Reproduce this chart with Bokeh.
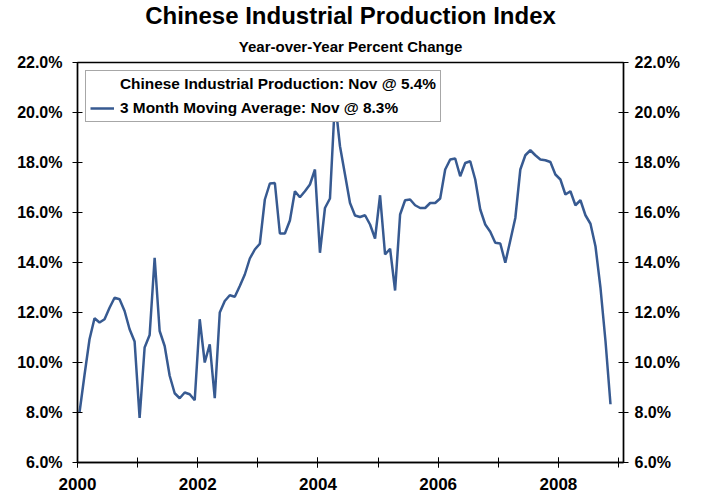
from bokeh.plotting import figure
from bokeh.models import (LinearAxis, FixedTicker, PrintfTickFormatter, Legend,
                          LegendItem, Range1d, Title, ColumnDataSource)
from bokeh.embed import file_html
from bokeh.resources import INLINE

# ---- data ----
start_year = 2000
ma3 = [
    # 2000
    8.0, 9.5, 10.93, 11.77, 11.6, 11.73, 12.19, 12.59, 12.53, 12.06, 11.33, 10.84,
    # 2001
    7.78, 10.6, 11.1, 14.19, 11.26, 10.66, 9.47, 8.77, 8.57, 8.80, 8.73, 8.49,
    # 2002
    11.73, 10.0, 10.73, 8.57, 12.0, 12.46, 12.69, 12.63, 13.06, 13.52, 14.16, 14.52,
    # 2003
    14.75, 16.52, 17.16, 17.18, 15.16, 15.16, 15.68, 16.85, 16.61, 16.85, 17.12, 17.72,
    # 2004
    14.39, 16.18, 16.56, 20.5, 18.65, 17.52, 16.38, 15.88, 15.82, 15.89, 15.52, 14.96,
    # 2005
    16.69, 14.32, 14.55, 12.88, 15.92, 16.49, 16.52, 16.29, 16.18, 16.18, 16.38, 16.38,
    # 2006
    16.56, 17.72, 18.12, 18.16, 17.45, 17.98, 18.05, 17.32, 16.12, 15.52, 15.23, 14.79,
    # 2007
    14.76, 13.99, 14.88, 15.78, 17.72, 18.29, 18.49, 18.29, 18.12, 18.09, 18.02, 17.52,
    # 2008
    17.32, 16.72, 16.85, 16.29, 16.49, 15.89, 15.55, 14.65, 12.99, 10.86, 8.33,
]
dates = [start_year + (i + 0.4) / 12.0 for i in range(len(ma3))]

y_ticks = [6, 8, 10, 12, 14, 16, 18, 20, 22]
x_label_years = [2000, 2002, 2004, 2006, 2008]
x_tick_years = [2000, 2001, 2002, 2003, 2004, 2005, 2006, 2007, 2008, 2009]

title_text = "Chinese Industrial Production Index"
subtitle_text = "Year-over-Year Percent Change"
legend_ip = "Chinese Industrial Production: Nov @ 5.4%"
legend_ma = "3 Month Moving Average: Nov @ 8.3%"

FONT = "Liberation Sans"
LINE_COLOR = "#375A91"

p = figure(width=700, height=495, output_backend="svg", toolbar_location=None,
           x_range=Range1d(2000, 2009.083), y_range=Range1d(6, 22),
           min_border_left=77, min_border_right=77, min_border_top=62,
           min_border_bottom=33, background_fill_color="white",
           border_fill_color="white")
p.grid.visible = False
p.outline_line_color = "black"
p.outline_line_width = 1.3

# Series
ip_src = ColumnDataSource(dict(x=[], y=[]))
r_ip = p.line("x", "y", source=ip_src, line_alpha=0)
src = ColumnDataSource(dict(x=dates, y=ma3))
r_ma = p.line("x", "y", source=src, line_color=LINE_COLOR, line_width=2.5)

# Axes styling
def style_y(ax, standoff):
    ax.ticker = FixedTicker(ticks=y_ticks, minor_ticks=[])
    ax.formatter = PrintfTickFormatter(format="%.1f%%")
    ax.major_tick_in = 5
    ax.major_tick_out = 5
    ax.major_tick_line_color = "black"
    ax.axis_line_color = "black"
    ax.axis_line_width = 1.5
    ax.major_label_text_font = FONT
    ax.major_label_text_font_style = "bold"
    ax.major_label_text_font_size = "16px"
    ax.major_label_text_color = "black"
    ax.major_label_standoff = standoff

style_y(p.yaxis[0], 10)
right = LinearAxis()
style_y(right, 6)
p.add_layout(right, "right")

xa = p.xaxis[0]
xa.ticker = FixedTicker(ticks=x_label_years, minor_ticks=x_tick_years)
xa.major_tick_in = 5
xa.major_tick_out = 5
xa.minor_tick_in = 5
xa.minor_tick_out = 5
xa.major_tick_line_color = "black"
xa.minor_tick_line_color = "black"
xa.axis_line_color = "black"
xa.axis_line_width = 1.5
xa.major_label_text_font = FONT
xa.major_label_text_font_style = "bold"
xa.major_label_text_font_size = "17px"
xa.major_label_text_color = "black"
xa.major_label_standoff = 10

# Legend
legend = Legend(items=[LegendItem(label=legend_ip, renderers=[r_ip]),
                       LegendItem(label=legend_ma, renderers=[r_ma])],
                location="top_left", margin=8, padding=4, spacing=6,
                glyph_width=24, glyph_height=18, label_height=18,
                label_standoff=6, border_line_color="#505050",
                border_line_width=1, background_fill_color="white",
                background_fill_alpha=1.0,
                label_text_font=FONT, label_text_font_style="bold",
                label_text_font_size="15.4px", label_text_color="black")
p.add_layout(legend, "center")

# Titles (subtitle first: closest to the plot)
p.add_layout(Title(text=subtitle_text, align="center", standoff=14,
                   vertical_align="middle",
                   text_font=FONT, text_font_style="bold",
                   text_font_size="15px", text_color="black"), "above")
p.add_layout(Title(text=title_text, align="center", standoff=0,
                   vertical_align="middle",
                   text_font=FONT, text_font_style="bold",
                   text_font_size="24px", text_color="black"), "above")

open("out.html", "w").write(file_html(p, INLINE))
